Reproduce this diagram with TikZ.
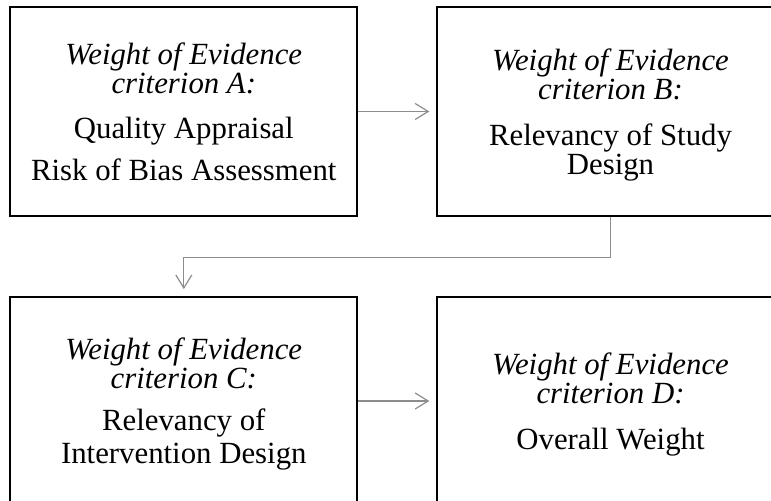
\documentclass[tikz,border=0pt]{standalone}
\usepackage{fontspec}
\setmainfont{Liberation Serif}
\usetikzlibrary{arrows.meta}
\definecolor{linegray}{RGB}{140,140,140}
\newcommand{\woe}[1]{\textit{Weight of Evidence}\\\textit{criterion #1:}}

\begin{document}
\begin{tikzpicture}[x=1pt,y=1pt,
    box/.style={draw,line width=1.1pt,minimum width=173.5pt,minimum height=104.2pt,
      align=center,text depth=0pt,font=\fontsize{15.4}{14.5}\selectfont},
    link/.style={draw=linegray,line width=0.6pt,
      -{Straight Barb[length=6.5pt,width=8pt]},shorten >=3.3pt}]
    % Frame
    \useasboundingbox (0,0) rectangle (385.5,250.5);

    % Criteria
    \node[box] (A) at (91.9,194.75) {\woe{A}\\[8.3pt] Quality Appraisal\\[6.5pt] Risk of Bias Assessment};
    \node[box] (B) at (305.25,194.75) {\woe{B}\\[8.8pt] Relevancy of Study\\ Design};
    \node[box] (C) at (91.9,50) {\woe{C}\\[6.3pt] Relevancy of\\[2.2pt] Intervention Design};
    \node[box] (D) at (305.25,50) {\woe{D}\\[8.8pt] Overall Weight};

    % Arrows
    \draw[link] (A) -- (B);
    \draw[link] (B.south) -- ++(0,-20.2) -| (C.north);
    \draw[link] (C) -- (D);
\end{tikzpicture}
\end{document}
